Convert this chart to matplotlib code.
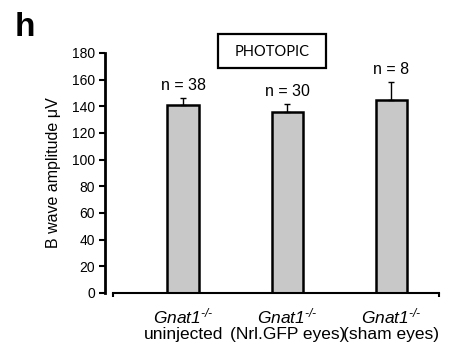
import matplotlib
matplotlib.use("Agg")
import matplotlib.pyplot as plt
from matplotlib.patches import Rectangle
import numpy as np

plt.rcParams['font.family'] = ['Liberation Sans', 'DejaVu Sans']
plt.rcParams['mathtext.fontset'] = 'custom'
plt.rcParams['mathtext.it'] = 'Liberation Sans:italic'
plt.rcParams['mathtext.rm'] = 'Liberation Sans:italic'
plt.rcParams['mathtext.sf'] = 'Liberation Sans:italic'

categories = ["uninjected", "(Nrl.GFP eyes)", "(sham eyes)"]
genotype = "$\\mathit{Gnat1}^{\\mathit{\u2010/\u2010}}$"
values = [141, 135.5, 144.5]
err_upper = [5, 6, 13.5]
n_labels = ["n = 38", "n = 30", "n = 8"]
yticks = [0, 20, 40, 60, 80, 100, 120, 140, 160, 180]

fig = plt.figure(figsize=(4.5, 3.52), dpi=100)
ax = fig.add_axes([113/450, 1-293/352, 326/450, 240/352])

x = np.arange(len(categories))
ax.bar(x, values, width=0.3, color="#c8c8c8", edgecolor="black", linewidth=1.8,
       yerr=[np.zeros(len(values)), err_upper], capsize=2.5,
       error_kw=dict(ecolor="black", elinewidth=1.0, capthick=1.0), zorder=2)

for xi, v, e, lab in zip(x, values, err_upper, n_labels):
    ax.text(xi, v + e + 4, lab, ha="center", va="bottom", fontsize=11.5)

ax.set_xlim(-0.673, 2.457)
ax.set_ylim(0, 180)
ax.set_yticks(yticks)
ax.set_yticklabels([str(t) for t in yticks], fontsize=7.5, color="#333333")
ax.tick_params(axis="y", direction="out", length=4, width=1.5, pad=3)

ax.set_xticks(x)
ax.set_xticklabels([genotype + "\n" + c for c in categories], fontsize=12.5,
                   linespacing=1.0)
ax.tick_params(axis="x", length=0, pad=10)
ax.set_xticks([-0.673, 2.457], minor=True)
ax.tick_params(axis="x", which="minor", direction="out", length=3, width=1.5)

for s in ["top", "right"]:
    ax.spines[s].set_visible(False)
ax.spines["left"].set_position(("outward", 5.8))
ax.spines["left"].set_linewidth(2.0)
ax.spines["bottom"].set_linewidth(1.5)

ax.set_ylabel("B wave amplitude μV", fontsize=11.5, labelpad=8)

fig.patches.append(Rectangle((218/450, 1-68/352), 108/450, 34/352, transform=fig.transFigure,
                             facecolor="white", edgecolor="black", linewidth=1.6))
fig.text(272/450, 1-52/352, "PHOTOPIC", fontsize=10.5, ha="center", va="center",
         family=["Lato", "DejaVu Sans"])
fig.text(15/450, 1-28/352, "h", fontsize=24, fontweight="bold", ha="left", va="center")

fig.savefig("out.png", dpi=100)
